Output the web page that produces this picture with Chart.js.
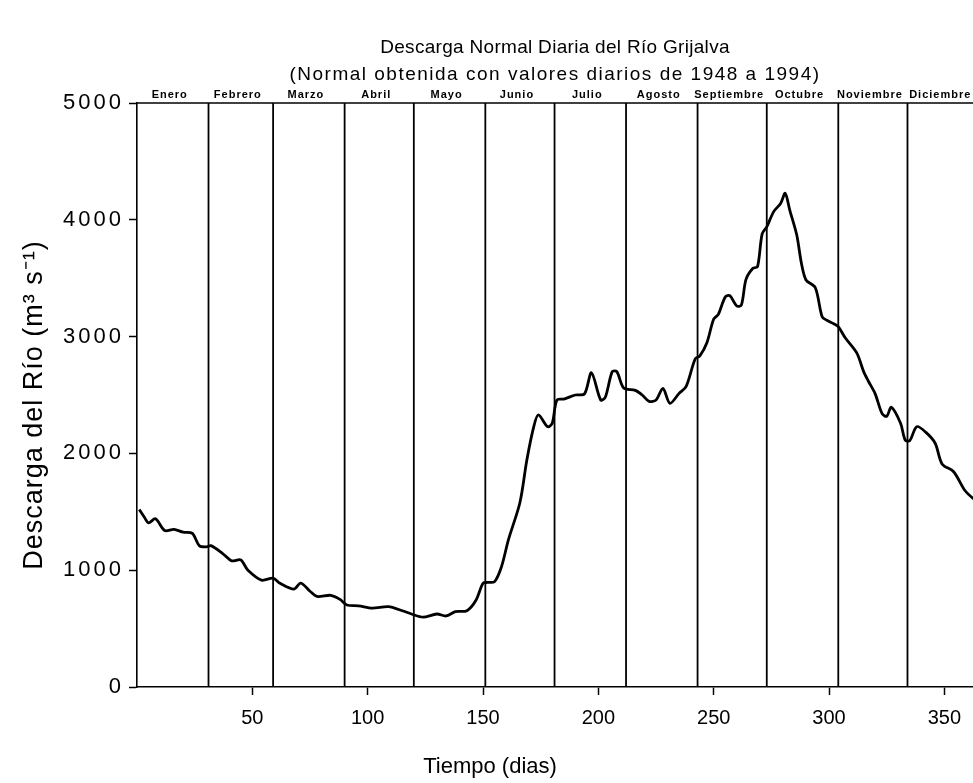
<!DOCTYPE html>
<html>
<head>
<meta charset="utf-8">
<script src="https://cdn.jsdelivr.net/npm/chart.js@4"></script>
<style>
  html, body { margin: 0; padding: 0; background: #fff; overflow: hidden; }
</style>
</head>
<body>
<canvas id="grijalva" width="990" height="783"></canvas>
<script>
// day of year and normal daily discharge (m3/s)
const days = [1, 3, 5, 8, 12, 16, 20, 24, 27, 30, 32, 37, 41, 45, 48, 54, 59, 62, 68, 71,
  75, 78, 84, 88, 91, 96, 102, 109, 115, 119, 124, 130, 134, 138, 143, 147, 150, 152, 155, 158,
  161, 166, 169, 172, 174, 178, 180, 182, 185, 190, 194, 197, 201, 203, 206, 208, 211, 216, 219, 222,
  225, 228, 231, 235, 238, 242, 244, 247, 250, 252, 255, 257, 260, 262, 264, 267, 269, 271, 273, 276,
  279, 281, 283, 286, 288, 290, 294, 297, 299, 302, 304, 307, 312, 315, 317, 320, 323, 325, 327, 331,
  333, 335, 338, 342, 346, 349, 354, 359, 363, 365];
const discharge = [1520, 1460, 1405, 1440, 1340, 1350, 1325, 1315, 1210, 1200, 1210, 1145, 1080, 1088, 1002, 915, 932, 888, 838, 890,
  820, 775, 785, 750, 702, 695, 675, 688, 653, 625, 598, 625, 608, 645, 653, 745, 888, 895, 902, 1030,
  1260, 1580, 1944, 2229, 2330, 2229, 2258, 2457, 2465, 2500, 2510, 2690, 2457, 2480, 2700, 2700, 2560, 2540, 2500, 2445,
  2457, 2557, 2429, 2514, 2571, 2810, 2835, 2945, 3150, 3191, 3340, 3350, 3262, 3270, 3490, 3585, 3600, 3880, 3940, 4070,
  4140, 4227, 4080, 3870, 3630, 3485, 3420, 3170, 3140, 3110, 3085, 2990, 2860, 2700, 2620, 2510, 2340, 2318, 2395, 2258,
  2115, 2110, 2229, 2180, 2087, 1910, 1843, 1680, 1605, 1580];

const monthNames = ['Enero', 'Febrero', 'Marzo', 'Abril', 'Mayo', 'Junio', 'Julio', 'Agosto',
  'Septiembre', 'Octubre', 'Noviembre', 'Diciembre'];
const monthEnds = [31, 59, 90, 120, 151, 181, 212, 243, 273, 304, 334, 365];
const xTicks = [50, 100, 150, 200, 250, 300, 350];
const yTicks = [0, 1000, 2000, 3000, 4000, 5000];

const titleLines = ['Descarga Normal Diaria del Río Grijalva',
  '(Normal obtenida con valores diarios de 1948 a 1994)'];
const xTitle = 'Tiempo (dias)';
const yTitle = 'Descarga del Río (m³ s⁻¹)';

const FONT = '"Liberation Sans", Arial, sans-serif';

let datasets = [{
  data: days.map((d, i) => ({ x: d, y: discharge[i] })),
  borderColor: '#000',
  borderWidth: 2.8,
  pointRadius: 0,
  tension: 0.3
}];

// vertical separators at the end of each month
monthEnds.forEach(d => {
  datasets.push({
    data: [{ x: d, y: yTicks[0] }, { x: d, y: yTicks[yTicks.length - 1] }],
    borderColor: '#000',
    borderWidth: 1.8,
    pointRadius: 0
  });
});

// titles, month names and the y tick labels
const textPlugin = {
  id: 'textPlugin',
  afterDraw(chart) {
    const ctx = chart.ctx;
    const area = chart.chartArea;
    const xs = chart.scales.x, ys = chart.scales.y;
    ctx.save();
    ctx.fillStyle = '#000';
    ctx.strokeStyle = '#000';

    // frame top
    ctx.lineWidth = 1.6;
    ctx.beginPath();
    ctx.moveTo(area.left, area.top);
    ctx.lineTo(area.right, area.top);
    ctx.stroke();

    ctx.textAlign = 'center';
    ctx.textBaseline = 'middle';
    ctx.font = '19px ' + FONT;
    ctx.letterSpacing = '0.3px';
    ctx.fillText(titleLines[0], 555, 48);
    ctx.letterSpacing = '1.5px';
    ctx.fillText(titleLines[1], 555, 75);

    ctx.font = 'bold 11px ' + FONT;
    ctx.letterSpacing = '1px';
    let start = 0;
    monthEnds.forEach((end, i) => {
      ctx.fillText(monthNames[i], xs.getPixelForValue((start + end) / 2) - 3, area.top - 8);
      start = end;
    });

    ctx.textAlign = 'right';
    ctx.font = '22px ' + FONT;
    ctx.letterSpacing = '3px';
    yTicks.forEach(v => {
      ctx.fillText(String(v), area.left - 13, ys.getPixelForValue(v));
    });

    ctx.textAlign = 'center';
    ctx.letterSpacing = '0px';
    ctx.font = '22px ' + FONT;
    ctx.fillText(xTitle, 490, 767);

    ctx.translate(35, (area.top + area.bottom) / 2 + 10);
    ctx.rotate(-Math.PI / 2);
    ctx.font = '27px ' + FONT;
    ctx.letterSpacing = '1px';
    ctx.fillText(yTitle, 0, 0);
    ctx.restore();
  }
};

new Chart(document.getElementById('grijalva'), {
  type: 'line',
  data: { datasets: datasets },
  plugins: [textPlugin],
  options: {
    responsive: false,
    animation: false,
    layout: { padding: { top: 103, right: 11, left: 0, bottom: 0 } },
    plugins: { legend: { display: false }, tooltip: { enabled: false } },
    scales: {
      x: {
        type: 'linear',
        min: 0,
        max: 365,
        afterBuildTicks: s => { s.ticks = xTicks.map(v => ({ value: v })); },
        afterFit: s => { s.height = 96; },
        ticks: { color: '#000', font: { size: 20, family: FONT }, padding: 11, maxRotation: 0 },
        grid: { drawOnChartArea: false, drawTicks: true, tickLength: 8, color: '#000', tickWidth: 1.5 },
        border: { display: true, color: '#000', width: 1.6 }
      },
      y: {
        min: 0,
        max: 5000,
        afterBuildTicks: s => { s.ticks = yTicks.map(v => ({ value: v })); },
        afterFit: s => { s.width = 137; },
        ticks: { display: false },
        grid: { drawOnChartArea: false, drawTicks: true, tickLength: 8, color: '#000', tickWidth: 1.5 },
        border: { display: true, color: '#000', width: 1.6 }
      }
    }
  }
});
</script>
</body>
</html>
